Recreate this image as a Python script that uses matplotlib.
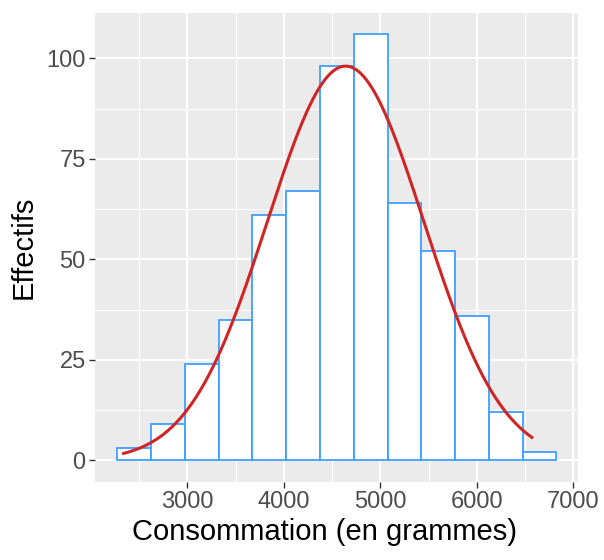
import numpy as np
import matplotlib
matplotlib.use("Agg")
import matplotlib.pyplot as plt
from matplotlib.ticker import MultipleLocator

# Histogram data (bin edges and counts)
bin_start = 2275
bin_width = 350
counts = [3, 9, 24, 35, 61, 67, 98, 106, 64, 52, 36, 12, 2]

# Fitted normal curve parameters
curve_mean = 4640
curve_sd = 810
curve_xmin = 2340
curve_xmax = 6570

x_ticks = [3000, 4000, 5000, 6000, 7000]
y_ticks = [0, 25, 50, 75, 100]

plt.rcParams['font.family'] = ['Liberation Sans', 'DejaVu Sans']

fig = plt.figure(figsize=(6.04, 5.6), dpi=100)
ax = fig.add_axes([95.4 / 604, 1 - 481.7 / 560, (578.4 - 95.4) / 604, (481.7 - 13) / 560])

n_bins = len(counts)
edges = [bin_start + i * bin_width for i in range(n_bins + 1)]
ax.bar(edges[:-1], counts, width=bin_width, align='edge', color='white',
       edgecolor='#3FA0FF', linewidth=1.3, zorder=3)

xs = np.linspace(curve_xmin, curve_xmax, 400)
total = sum(counts)
ys = total * bin_width / (curve_sd * np.sqrt(2 * np.pi)) * np.exp(-0.5 * ((xs - curve_mean) / curve_sd) ** 2)
ax.plot(xs, ys, color='#D02525', linewidth=2.2, zorder=4)

xr = edges[-1] - edges[0]
ax.set_xlim(edges[0] - 0.05 * xr, edges[-1] + 0.05 * xr)
ymax = max(counts)
ax.set_ylim(-0.05 * ymax, ymax * 1.05)

ax.set_facecolor('#EBEBEB')
ax.set_xticks(x_ticks)
ax.set_yticks(y_ticks)
ax.xaxis.set_minor_locator(MultipleLocator(500))
ax.yaxis.set_minor_locator(MultipleLocator(12.5))
ax.grid(which='major', color='white', linewidth=1.4, zorder=0)
ax.grid(which='minor', color='white', linewidth=0.7, zorder=0)
ax.set_axisbelow(True)
for s in ax.spines.values():
    s.set_visible(False)
ax.tick_params(which='major', length=4, width=1, color='#333333',
               labelsize=17, labelcolor='#4D4D4D', pad=3)
ax.tick_params(which='minor', length=0)

ax.set_xlabel('Consommation (en grammes)', fontsize=21, color='black', labelpad=3)
ax.xaxis.label.set_x(0.475)
ax.set_ylabel('Effectifs', fontsize=21, color='black', labelpad=6)

fig.savefig('out.png', dpi=100)
